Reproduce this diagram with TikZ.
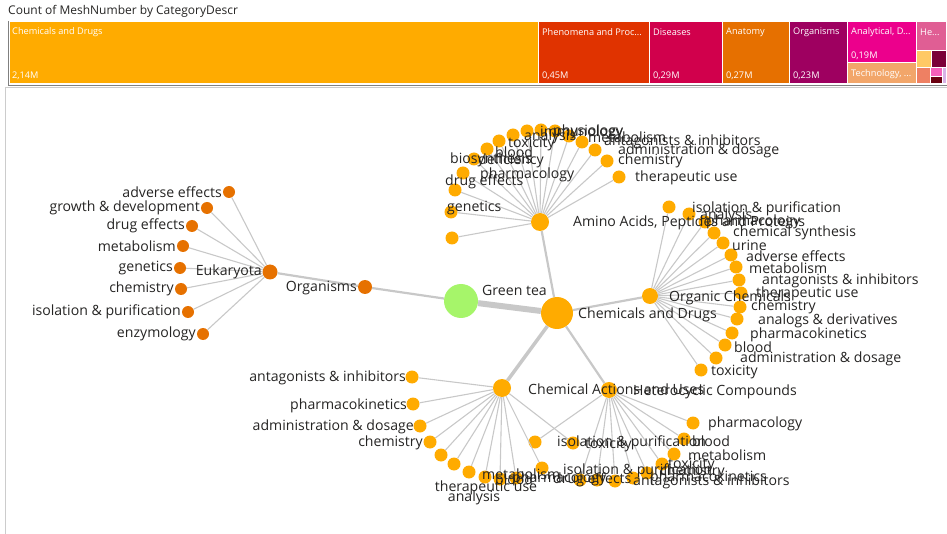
\documentclass[tikz,border=0pt]{standalone}
\usepackage{fontspec}
\setmainfont{Open Sans}
\usetikzlibrary{positioning}

\definecolor{chemorange}{RGB}{255,171,0}
\definecolor{orgorange}{RGB}{230,113,0}
\definecolor{teagreen}{RGB}{166,245,106}
\definecolor{edgegray}{RGB}{200,200,200}
\definecolor{inkgray}{RGB}{37,36,35}
\definecolor{tmphen}{RGB}{224,51,0}
\definecolor{tmdis}{RGB}{209,0,76}
\definecolor{tmana}{RGB}{230,112,0}
\definecolor{tmorg}{RGB}{158,0,96}
\definecolor{tmanal}{RGB}{236,0,140}
\definecolor{tmtech}{RGB}{242,166,106}
\definecolor{tmhe}{RGB}{224,94,148}

\begin{document}
\begin{tikzpicture}[x=1pt, y=-1pt,
    hub/.style={circle, fill=chemorange, inner sep=0pt},
    leaf/.style={circle, fill=chemorange, minimum size=13pt, inner sep=0pt},
    orgleaf/.style={leaf, fill=orgorange, minimum size=12pt},
    lbl/.style={text=inkgray, font=\fontsize{14.1}{17}\selectfont, inner sep=0pt},
    spoke/.style={draw=edgegray, line width=1.1pt},
    trunk/.style={draw=edgegray, line width=2.2pt},
    cell/.style={draw=white, line width=1pt},
    celltext/.style={text=white, font=\fontsize{9.2}{11}\selectfont, inner sep=0pt, anchor=west}
  ]
    \useasboundingbox (0,0) rectangle (947,534);

    % treemap
    \node[lbl, anchor=west, font=\fontsize{12}{14}\selectfont] (title) at (8,11) {Count of MeshNumber by CategoryDescr};
    \draw[cell, fill=chemorange] (9,22) rectangle (538,84);
    \draw[cell, fill=tmphen] (538,22) rectangle (649,84);
    \draw[cell, fill=tmdis] (649,22) rectangle (722,84);
    \draw[cell, fill=tmana] (722,22) rectangle (789,84);
    \draw[cell, fill=tmorg] (789,22) rectangle (847,84);
    \draw[cell, fill=tmanal] (847,22) rectangle (916,63);
    \draw[cell, fill=tmtech] (847,63) rectangle (916,84);
    \draw[cell, fill=tmhe] (916,22) rectangle (946,51);
    \draw[cell, fill={rgb,255:red,255;green,201;blue,101}] (916,51) rectangle (931,68);
    \draw[cell, fill={rgb,255:red,123;green,0;blue,56}] (931,51) rectangle (946,68);
    \draw[cell, fill={rgb,255:red,238;green,128;blue,99}] (916,68) rectangle (930,84);
    \draw[cell, fill={rgb,255:red,245;green,95;blue,185}] (930,68) rectangle (942,77);
    \draw[cell, fill={rgb,255:red,106;green,0;blue,16}] (930,77) rectangle (942,84);
    \draw[cell, fill={rgb,255:red,216;green,178;blue,230}] (942,68) rectangle (946,84);
    \node[celltext] (tm1) at (12,32) {Chemicals and Drugs};
    \node[celltext] (tm1v) at (12,76) {2,14M};
    \node[celltext] (tm2) at (542,32) {Phenomena and Proc...};
    \node[celltext] (tm2v) at (542,76) {0,45M};
    \node[celltext] (tm3) at (653,32) {Diseases};
    \node[celltext] (tm3v) at (653,76) {0,29M};
    \node[celltext] (tm4) at (726,32) {Anatomy};
    \node[celltext] (tm4v) at (726,76) {0,27M};
    \node[celltext] (tm5) at (793,32) {Organisms};
    \node[celltext] (tm5v) at (793,76) {0,23M};
    \node[celltext] (tm6) at (851,32) {Analytical, D...};
    \node[celltext] (tm6v) at (851,56) {0,19M};
    \node[celltext] (tm7) at (851,74) {Technology, ...};
    \node[celltext] (tm8) at (920,32) {He...};
    \draw[gray, line width=0.8pt] (8,21) -- (8,85) -- (947,85);
    \draw[gray!40, line width=0.8pt] (5,87) -- (947,87);
    \draw[gray!40, line width=0.8pt] (5,87) -- (5,534);

    % hubs
    \node[hub, fill=teagreen, minimum size=34pt] (tea) at (461,301) {};
    \node[hub, minimum size=32pt] (chem) at (557,313) {};
    \node[hub, fill=orgorange, minimum size=14pt] (org) at (365,287) {};
    \node[hub, fill=orgorange, minimum size=15pt] (euk) at (270,272) {};
    \node[hub, minimum size=18pt] (amino) at (540,222) {};
    \node[hub, minimum size=16pt] (organic) at (650,296) {};
    \node[hub, minimum size=18pt] (actions) at (502,388) {};
    \node[hub, minimum size=16pt] (hetero) at (609,390) {};

    % Eukaryota leaves
    \node[orgleaf] (euk1) at (229,192) {};
    \node[orgleaf] (euk2) at (207,208) {};
    \node[orgleaf] (euk3) at (192,226) {};
    \node[orgleaf] (euk4) at (183,246) {};
    \node[orgleaf] (euk5) at (180,268) {};
    \node[orgleaf] (euk6) at (181,289) {};
    \node[orgleaf] (euk7) at (188,312) {};
    \node[orgleaf] (euk8) at (203,334) {};

    % Amino Acids leaves
    \node[leaf] (am1) at (452,238) {};
    \node[leaf] (am2) at (451,212) {};
    \node[leaf] (am3) at (455,190) {};
    \node[leaf] (am4) at (463,173) {};
    \node[leaf] (am5) at (474,159) {};
    \node[leaf] (am6) at (487,149) {};
    \node[leaf] (am7) at (499,141) {};
    \node[leaf] (am8) at (513,135) {};
    \node[leaf] (am9) at (527,131) {};
    \node[leaf] (am10) at (541,130) {};
    \node[leaf] (am11) at (555,131) {};
    \node[leaf] (am12) at (569,136) {};
    \node[leaf] (am13) at (582,142) {};
    \node[leaf] (am14) at (595,150) {};
    \node[leaf] (am15) at (607,161) {};
    \node[leaf] (am16) at (619,177) {};

    % Organic Chemicals leaves
    \node[leaf] (oc1) at (669,207) {};
    \node[leaf] (oc2) at (689,214) {};
    \node[leaf] (oc3) at (705,222) {};
    \node[leaf] (oc4) at (714,233) {};
    \node[leaf] (oc5) at (723,243) {};
    \node[leaf] (oc6) at (731,255) {};
    \node[leaf] (oc7) at (736,267) {};
    \node[leaf] (oc8) at (739,280) {};
    \node[leaf] (oc9) at (741,293) {};
    \node[leaf] (oc10) at (740,307) {};
    \node[leaf] (oc11) at (737,319) {};
    \node[leaf] (oc12) at (732,333) {};
    \node[leaf] (oc13) at (725,345) {};
    \node[leaf] (oc14) at (716,358) {};
    \node[leaf] (oc15) at (701,370) {};

    % Chemical Actions leaves
    \node[leaf] (ca1) at (412,377) {};
    \node[leaf] (ca2) at (413,404) {};
    \node[leaf] (ca3) at (420,426) {};
    \node[leaf] (ca4) at (430,442) {};
    \node[leaf] (ca5) at (441,455) {};
    \node[leaf] (ca6) at (454,464) {};
    \node[leaf] (ca7) at (469,472) {};
    \node[leaf] (ca8) at (485,477) {};
    \node[leaf] (ca9) at (500,479) {};
    \node[leaf] (ca10) at (516,478) {};
    \node[leaf] (ca11) at (542,468) {};
    \node[leaf] (ca12) at (573,443) {};

    % Heterocyclic leaves
    \node[leaf] (hc1) at (535,442) {};
    \node[leaf] (hc2) at (580,480) {};
    \node[leaf] (hc3) at (597,480) {};
    \node[leaf] (hc4) at (615,481) {};
    \node[leaf] (hc5) at (633,478) {};
    \node[leaf] (hc6) at (647,473) {};
    \node[leaf] (hc7) at (662,464) {};
    \node[leaf] (hc8) at (674,454) {};
    \node[leaf] (hc9) at (684,439) {};
    \node[leaf] (hc10) at (693,423) {};

    % links
    \draw[draw=edgegray, line width=6pt] (tea) -- (chem);
    \draw[trunk] (tea) -- (org);
    \draw[trunk] (org) -- (euk);
    \draw[trunk] (chem) -- (amino);
    \draw[trunk] (chem) -- (organic);
    \draw[draw=edgegray, line width=3.5pt] (chem) -- (actions);
    \draw[trunk] (chem) -- (hetero);
    \draw[spoke] (euk) -- (euk1);
    \draw[spoke] (euk) -- (euk2);
    \draw[spoke] (euk) -- (euk3);
    \draw[spoke] (euk) -- (euk4);
    \draw[spoke] (euk) -- (euk5);
    \draw[spoke] (euk) -- (euk6);
    \draw[spoke] (euk) -- (euk7);
    \draw[spoke] (euk) -- (euk8);
    \draw[spoke] (amino) -- (am1);
    \draw[spoke] (amino) -- (am2);
    \draw[spoke] (amino) -- (am3);
    \draw[spoke] (amino) -- (am4);
    \draw[spoke] (amino) -- (am5);
    \draw[spoke] (amino) -- (am6);
    \draw[spoke] (amino) -- (am7);
    \draw[spoke] (amino) -- (am8);
    \draw[spoke] (amino) -- (am9);
    \draw[spoke] (amino) -- (am10);
    \draw[spoke] (amino) -- (am11);
    \draw[spoke] (amino) -- (am12);
    \draw[spoke] (amino) -- (am13);
    \draw[spoke] (amino) -- (am14);
    \draw[spoke] (amino) -- (am15);
    \draw[spoke] (amino) -- (am16);
    \draw[spoke] (organic) -- (oc1);
    \draw[spoke] (organic) -- (oc2);
    \draw[spoke] (organic) -- (oc3);
    \draw[spoke] (organic) -- (oc4);
    \draw[spoke] (organic) -- (oc5);
    \draw[spoke] (organic) -- (oc6);
    \draw[spoke] (organic) -- (oc7);
    \draw[spoke] (organic) -- (oc8);
    \draw[spoke] (organic) -- (oc9);
    \draw[spoke] (organic) -- (oc10);
    \draw[spoke] (organic) -- (oc11);
    \draw[spoke] (organic) -- (oc12);
    \draw[spoke] (organic) -- (oc13);
    \draw[spoke] (organic) -- (oc14);
    \draw[spoke] (organic) -- (oc15);
    \draw[spoke] (actions) -- (ca1);
    \draw[spoke] (actions) -- (ca2);
    \draw[spoke] (actions) -- (ca3);
    \draw[spoke] (actions) -- (ca4);
    \draw[spoke] (actions) -- (ca5);
    \draw[spoke] (actions) -- (ca6);
    \draw[spoke] (actions) -- (ca7);
    \draw[spoke] (actions) -- (ca8);
    \draw[spoke] (actions) -- (ca9);
    \draw[spoke] (actions) -- (ca10);
    \draw[spoke] (actions) -- (ca11);
    \draw[spoke] (actions) -- (ca12);
    \draw[spoke] (hetero) -- (hc1);
    \draw[spoke] (hetero) -- (hc2);
    \draw[spoke] (hetero) -- (hc3);
    \draw[spoke] (hetero) -- (hc4);
    \draw[spoke] (hetero) -- (hc5);
    \draw[spoke] (hetero) -- (hc6);
    \draw[spoke] (hetero) -- (hc7);
    \draw[spoke] (hetero) -- (hc8);
    \draw[spoke] (hetero) -- (hc9);
    \draw[spoke] (hetero) -- (hc10);

    % hub labels
    \node[lbl, anchor=west] (teat) at (482,290) {Green tea};
    \node[lbl, anchor=west] (chemt) at (578,315) {Chemicals and Drugs};
    \node[lbl, anchor=east] (orgt) at (357,288) {Organisms};
    \node[lbl, anchor=east] (eukt) at (262,272) {Eukaryota};
    \node[lbl, anchor=west] (aminot) at (573,223) {Amino Acids, Peptides and Proteins};
    \node[lbl, anchor=west] (organict) at (669,298) {Organic Chemicals};
    \node[lbl, anchor=west] (actionst) at (528,389) {Chemical Actions and Uses};
    \node[lbl, anchor=west] (heterot) at (633,392) {Heterocyclic Compounds};

    % leaf labels
    \node[lbl, anchor=east] (euk1t) at (222,192) {adverse effects};
    \node[lbl, anchor=east] (euk2t) at (200,208) {growth \& development};
    \node[lbl, anchor=east] (euk3t) at (185,226) {drug effects};
    \node[lbl, anchor=east] (euk4t) at (176,246) {metabolism};
    \node[lbl, anchor=east] (euk5t) at (173,268) {genetics};
    \node[lbl, anchor=east] (euk6t) at (174,289) {chemistry};
    \node[lbl, anchor=east] (euk7t) at (181,312) {isolation \& purification};
    \node[lbl, anchor=east] (euk8t) at (196,334) {enzymology};

    \node[lbl, anchor=west] (am2t) at (447,208) {genetics};
    \node[lbl, anchor=west] (am3t) at (445,182) {drug effects};
    \node[lbl, anchor=west] (am4t) at (480,175) {pharmacology};
    \node[lbl, anchor=west] (am5t) at (450,160) {biosynthesis};
    \node[lbl, anchor=west] (am6t) at (478,161) {deficiency};
    \node[lbl, anchor=west] (am7t) at (495,152) {blood};
    \node[lbl, anchor=west] (am8t) at (508,144) {toxicity};
    \node[lbl, anchor=west] (am9t) at (524,137) {analysis};
    \node[lbl, anchor=west] (am10t) at (540,133) {immunology};
    \node[lbl, anchor=west] (am11t) at (553,132) {physiology};
    \node[lbl, anchor=west] (am12t) at (588,137) {metabolism};
    \node[lbl, anchor=west] (am13t) at (604,142) {antagonists \& inhibitors};
    \node[lbl, anchor=west] (am14t) at (618,151) {administration \& dosage};
    \node[lbl, anchor=west] (am15t) at (618,161) {chemistry};
    \node[lbl, anchor=west] (am16t) at (635,178) {therapeutic use};

    \node[lbl, anchor=west] (oc1t) at (692,209) {isolation \& purification};
    \node[lbl, anchor=west] (oc2t) at (700,216) {analysis};
    \node[lbl, anchor=west] (oc3t) at (706,222) {pharmacology};
    \node[lbl, anchor=west] (oc4t) at (733,233) {chemical synthesis};
    \node[lbl, anchor=west] (oc5t) at (732,245) {urine};
    \node[lbl, anchor=west] (oc6t) at (746,256) {adverse effects};
    \node[lbl, anchor=west] (oc7t) at (749,268) {metabolism};
    \node[lbl, anchor=west] (oc8t) at (762,281) {antagonists \& inhibitors};
    \node[lbl, anchor=west] (oc9t) at (756,294) {therapeutic use};
    \node[lbl, anchor=west] (oc10t) at (751,307) {chemistry};
    \node[lbl, anchor=west] (oc11t) at (758,321) {analogs \& derivatives};
    \node[lbl, anchor=west] (oc12t) at (750,335) {pharmacokinetics};
    \node[lbl, anchor=west] (oc13t) at (734,347) {blood};
    \node[lbl, anchor=west] (oc14t) at (740,359) {administration \& dosage};
    \node[lbl, anchor=west] (oc15t) at (711,372) {toxicity};

    \node[lbl, anchor=east] (ca1t) at (406,378) {antagonists \& inhibitors};
    \node[lbl, anchor=east] (ca2t) at (407,406) {pharmacokinetics};
    \node[lbl, anchor=east] (ca3t) at (414,427) {administration \& dosage};
    \node[lbl, anchor=east] (ca4t) at (423,443) {chemistry};
    \node[lbl] (ca7t) at (474,498) {analysis};
    \node[lbl] (ca8t) at (486,488) {therapeutic use};
    \node[lbl, anchor=west] (ca9t) at (482,474) {metabolism};
    \node[lbl, anchor=west] (ca10t) at (495,479) {blood};
    \node[lbl, anchor=west] (ca11t) at (512,479) {pharmacology};
    \node[lbl, anchor=west] (ca12t) at (585,445) {toxicity};

    \node[lbl, anchor=west] (hc1t) at (557,443) {isolation \& purification};
    \node[lbl, anchor=west] (hc2t) at (563,471) {isolation \& purification};
    \node[lbl, anchor=west] (hc3t) at (553,480) {drug effects};
    \node[lbl, anchor=west] (hc4t) at (633,482) {antagonists \& inhibitors};
    \node[lbl, anchor=west] (hc5t) at (650,478) {pharmacokinetics};
    \node[lbl, anchor=west] (hc6t) at (660,472) {chemistry};
    \node[lbl, anchor=west] (hc7t) at (668,465) {toxicity};
    \node[lbl, anchor=west] (hc8t) at (688,455) {metabolism};
    \node[lbl, anchor=west] (hc9t) at (692,441) {blood};
    \node[lbl, anchor=west] (hc10t) at (708,424) {pharmacology};
  \end{tikzpicture}
\end{document}
